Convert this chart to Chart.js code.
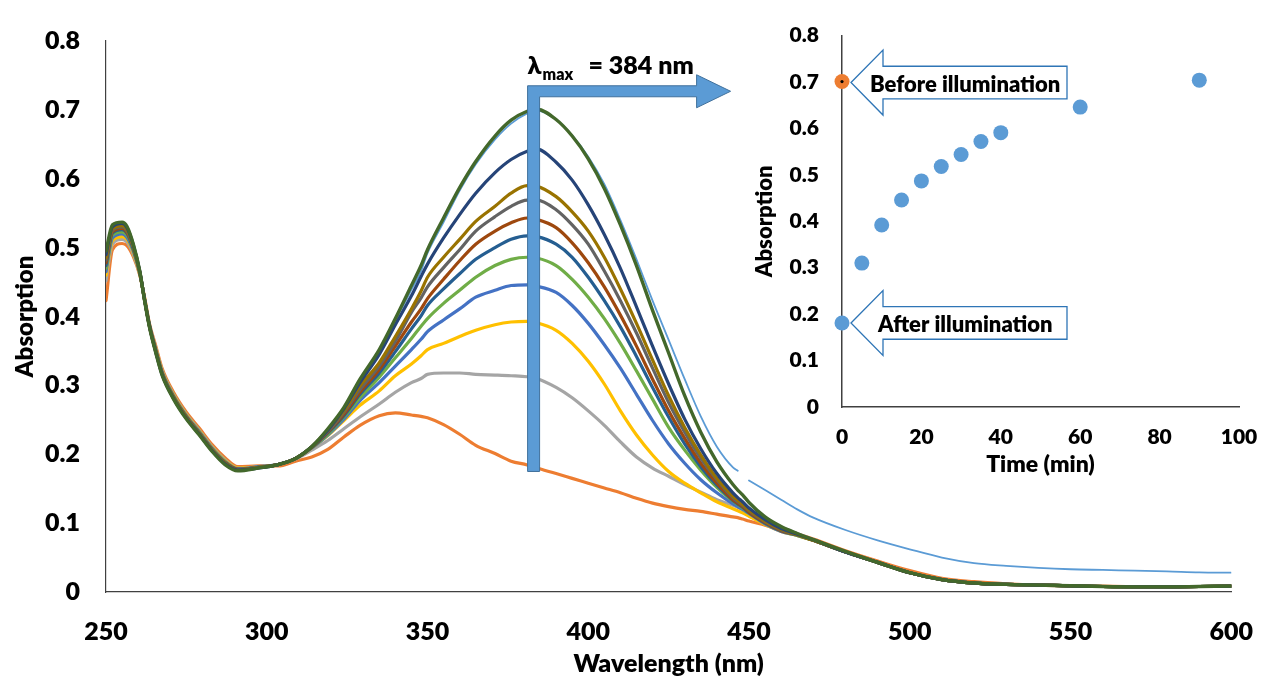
<!DOCTYPE html>
<html><head><meta charset="utf-8">
<script src="https://cdn.jsdelivr.net/npm/chart.js@4.4.0/dist/chart.umd.min.js"></script>
<style>
html,body{margin:0;padding:0;background:#fff;}
#wrap{position:relative;width:1278px;height:679px;overflow:hidden;background:#fff;}
#main{position:absolute;left:0;top:0;}
#inset{position:absolute;left:740px;top:0;}
</style></head><body>
<div id="wrap">
<canvas id="main" width="1278" height="679"></canvas>
<canvas id="inset" width="538" height="480"></canvas>
</div>
<script>
// ---------- main spectra data ----------
const wavelengths = [250,252,255,256.5,258.5,260.5,262,263.5,265.5,267.5,271,275,279,283,287,291,297.5,303.5,309,314,319,324,329,335,340,345,348,350,355,360,365,371,376,381,384,390,395,400,405,410,415,420,425,430,435,440,445,446.5,448,450,455,460,465,470,480,490,500,510,520,530,540,550,560,570,580,590,600];

const absBefore = [.485,.529,.534,.528,.503,.466,.424,.386,.349,.316,.282,.253,.230,.206,.187,.177,.181,.185,.194,.211,.236,.267,.307,.350,.394,.439,.466,.492,.537,.583,.621,.657,.680,.695,.699,.686,.663,.632,.592,.540,.483,.423,.366,.309,.255,.211,.181,.176,null,.162,.148,.134,.120,.108,.090,.075,.062,.050,.042,.038,.035,.033,.032,.031,.030,.0285,.028];
const abs0min = [.423,.497,.506,.503,.487,.460,.428,.390,.357,.324,.290,.261,.238,.214,.195,.182,.183,.183,.190,.196,.207,.225,.242,.256,.260,.257,.255,.253,.243,.229,.213,.201,.190,.1845,.180,.172,.165,.158,.151,.144,.136,.129,.124,.120,.117,.113,.109,.108,.106,.103,.097,.090,.084,.077,.060,.045,.031,.020,.015,.012,.010,.009,.0085,.008,.008,.008,.0085];
const abs5min = [.452,.505,.512,.508,.490,.461,.426,.389,.354,.321,.287,.258,.235,.211,.192,.180,.182,.185,.193,.206,.220,.237,.254,.273,.290,.304,.310,.316,.318,.318,.316,.315,.314,.3125,.310,.297,.282,.263,.242,.218,.196,.180,.168,.156,.145,.134,.126,.123,.120,.116,.105,.094,.085,.076,.058,.043,.028,.018,.013,.011,.010,.009,.008,.0075,.0075,.008,.0085];
const abs10min = [.460,.510,.516,.512,.493,.462,.426,.388,.353,.320,.286,.257,.234,.210,.191,.180,.182,.185,.194,.209,.227,.249,.271,.292,.314,.331,.343,.352,.361,.371,.380,.388,.392,.393,.391,.380,.361,.335,.302,.263,.228,.199,.175,.158,.144,.131,.121,.118,.115,.110,.098,.088,.082,.075,.058,.043,.028,.018,.013,.011,.010,.009,.008,.0075,.0075,.008,.0085];
const abs15min = [.465,.514,.520,.515,.495,.463,.425,.388,.352,.319,.285,.256,.233,.209,.190,.179,.182,.185,.194,.209,.228,.251,.278,.304,.328,.352,.367,.378,.395,.411,.428,.438,.445,.446,.444,.435,.416,.390,.359,.325,.287,.249,.215,.187,.163,.144,.128,.124,.120,.114,.099,.088,.082,.075,.058,.043,.028,.018,.013,.011,.010,.009,.008,.0075,.0075,.008,.0085];
const abs20min = [.470,.518,.523,.518,.497,.463,.425,.387,.351,.318,.284,.255,.232,.208,.189,.178,.181,.185,.194,.210,.229,.254,.282,.312,.340,.368,.386,.397,.419,.438,.457,.474,.483,.486,.485,.474,.454,.428,.397,.361,.321,.280,.239,.206,.177,.152,.132,.127,.122,.115,.100,.089,.082,.075,.058,.043,.028,.018,.013,.011,.010,.009,.008,.0075,.0075,.008,.0085];
const abs25min = [.474,.521,.526,.521,.498,.464,.424,.387,.350,.317,.283,.254,.231,.207,.188,.178,.181,.185,.194,.210,.231,.256,.287,.318,.349,.382,.401,.416,.440,.462,.483,.500,.512,.517,.516,.505,.486,.457,.423,.385,.342,.297,.254,.215,.182,.155,.133,.128,.123,.115,.100,.089,.083,.075,.058,.043,.028,.018,.013,.011,.010,.009,.008,.0075,.0075,.008,.0085];
const abs30min = [.478,.523,.528,.522,.500,.464,.424,.387,.350,.317,.283,.254,.231,.207,.188,.178,.181,.185,.194,.210,.232,.258,.290,.323,.357,.392,.411,.426,.454,.481,.505,.524,.536,.543,.541,.529,.507,.478,.443,.402,.357,.309,.263,.223,.187,.158,.134,.129,.124,.116,.101,.089,.083,.075,.058,.043,.028,.018,.013,.011,.010,.009,.008,.0075,.0075,.008,.0085];
const abs35min = [.482,.525,.530,.524,.501,.465,.424,.386,.349,.316,.282,.253,.230,.206,.187,.177,.181,.185,.194,.211,.233,.261,.294,.328,.364,.406,.427,.443,.471,.497,.524,.545,.560,.569,.569,.555,.533,.505,.466,.423,.376,.325,.275,.232,.194,.163,.137,.131,.126,.118,.102,.090,.083,.075,.058,.043,.028,.018,.013,.011,.010,.009,.008,.0075,.0075,.008,.0085];
const abs40min = [.485,.527,.532,.526,.502,.465,.424,.386,.349,.316,.282,.253,.230,.206,.187,.177,.181,.185,.194,.211,.235,.263,.299,.333,.371,.411,.437,.457,.486,.512,.538,.560,.579,.590,.589,.574,.552,.524,.486,.440,.390,.337,.285,.239,.199,.165,.139,.133,.127,.119,.103,.091,.083,.075,.058,.043,.028,.018,.013,.011,.010,.009,.008,.0075,.0075,.008,.0085];
const abs60min = [.490,.530,.535,.529,.504,.466,.424,.386,.348,.315,.281,.252,.229,.205,.186,.177,.180,.185,.194,.211,.235,.266,.304,.345,.388,.430,.458,.476,.514,.548,.579,.609,.628,.640,.643,.624,.598,.562,.519,.470,.414,.357,.302,.251,.208,.172,.144,.137,.131,.122,.105,.092,.084,.076,.058,.043,.028,.018,.013,.011,.010,.009,.008,.0075,.0075,.008,.0085];
const abs90min = [.495,.533,.537,.531,.505,.466,.423,.385,.347,.314,.280,.251,.228,.204,.185,.176,.180,.185,.194,.211,.237,.268,.309,.352,.397,.445,.474,.497,.543,.587,.625,.662,.685,.698,.701,.686,.662,.629,.586,.533,.474,.409,.347,.285,.232,.189,.156,.148,.141,.130,.109,.095,.085,.076,.059,.043,.028,.018,.013,.011,.010,.009,.008,.0075,.0075,.008,.0085];

const wavelengthTicks = [250,300,350,400,450,500,550,600];
const absorptionTicks = [0,0.1,0.2,0.3,0.4,0.5,0.6,0.7,0.8];
const lambdaMax = 383;

// ---------- inset data ----------
const timeMin = [0,5,10,15,20,25,30,35,40,60,90];
const absAtMax = [0.181,0.310,0.392,0.446,0.487,0.518,0.544,0.572,0.591,0.646,0.704];
const beforeTime = [0];
const beforeAbs = [0.701];
const timeTicks = [0,20,40,60,80,100];

// ---------- styles ----------
const FONT = 'Lato';
const W = 800;
const seriesList = [
  {d: abs90min, c:'#43682B', w:3.4},
  {d: abs60min, c:'#264478', w:3.2},
  {d: abs40min, c:'#997300', w:3.2},
  {d: abs35min, c:'#636363', w:3.2},
  {d: abs30min, c:'#9E480E', w:3.2},
  {d: abs25min, c:'#255E91', w:3.2},
  {d: abs20min, c:'#70AD47', w:3.2},
  {d: abs15min, c:'#4472C4', w:3.2},
  {d: abs10min, c:'#FFC000', w:3.2},
  {d: abs5min,  c:'#A5A5A5', w:3.2},
  {d: abs0min,  c:'#ED7D31', w:3.2},
  {d: absBefore,c:'#5B9BD5', w:1.8}
];

const lambdaArrow = {
  id: 'lambdaArrow',
  afterDatasetsDraw(chart) {
    const {ctx, scales: {x, y}} = chart;
    const cx = x.getPixelForValue(lambdaMax);
    const half = 6;
    const yBot = y.getPixelForValue(0.175);
    const yTop = y.getPixelForValue(0.735);
    const thick = 11;
    const headBase = cx + 163, tip = cx + 197;
    ctx.save();
    ctx.beginPath();
    ctx.moveTo(cx - half, yBot);
    ctx.lineTo(cx - half, yTop);
    ctx.lineTo(headBase, yTop);
    ctx.lineTo(headBase, yTop - 11);
    ctx.lineTo(tip, yTop + thick / 2);
    ctx.lineTo(headBase, yTop + thick + 11);
    ctx.lineTo(headBase, yTop + thick);
    ctx.lineTo(cx + half, yTop + thick);
    ctx.lineTo(cx + half, yBot);
    ctx.closePath();
    ctx.fillStyle = '#5B9BD5';
    ctx.fill();
    ctx.strokeStyle = '#41719C';
    ctx.lineWidth = 1;
    ctx.stroke();
    ctx.fillStyle = '#000';
    ctx.textBaseline = 'alphabetic';
    ctx.textAlign = 'left';
    ctx.font = W + ' 25px ' + FONT + ', "DejaVu Sans"';
    ctx.fillText('λ', cx - half, yTop - 12);
    const lw = ctx.measureText('λ').width;
    ctx.font = W + ' 16px ' + FONT;
    ctx.fillText('max', cx - half + lw + 1, yTop - 6);
    ctx.font = W + ' 25px ' + FONT;
    ctx.fillText('= 384 nm', cx + 55, yTop - 12);
    ctx.restore();
  }
};

const fnt = (s) => ({family: FONT, size: s, weight: W});

new Chart(document.getElementById('main'), {
  type: 'line',
  data: {
    datasets: seriesList.map(s => ({
      data: wavelengths.map((w, i) => ({x: w, y: s.d[i]})),
      borderColor: s.c,
      backgroundColor: s.c,
      borderWidth: s.w,
      pointRadius: 0,
      fill: false,
      spanGaps: false,
      cubicInterpolationMode: 'monotone'
    }))
  },
  options: {
    responsive: false,
    animation: false,
    devicePixelRatio: 1,
    layout: {padding: {left: 0, top: 34, right: 38, bottom: 0}},
    plugins: {legend: {display: false}, tooltip: {enabled: false}},
    elements: {line: {borderJoinStyle: 'round', borderCapStyle: 'round'}},
    scales: {
      x: {
        type: 'linear', min: 250, max: 600,
        afterBuildTicks: s => { s.ticks = wavelengthTicks.map(v => ({value: v})); },
        afterFit: s => { s.height = 87; },
        grid: {display: false, drawTicks: false},
        border: {display: true, color: '#404040', width: 1.2},
        ticks: {padding: 25, color: '#000', font: fnt(25), maxRotation: 0},
        title: {display: true, text: 'Wavelength (nm)', color: '#000', font: fnt(25), padding: {top: 0, bottom: 0}}
      },
      y: {
        type: 'linear', min: 0, max: 0.8,
        afterBuildTicks: s => { s.ticks = absorptionTicks.map(v => ({value: v})); },
        afterFit: s => { s.width = 106; },
        grid: {display: false, drawTicks: false},
        border: {display: true, color: '#404040', width: 1.2},
        ticks: {padding: 26, color: '#000', font: fnt(25), callback: v => v === 0 ? '0' : v.toFixed(1)},
        title: {display: true, text: 'Absorption', color: '#000', font: fnt(24), padding: {top: 11, bottom: 0}}
      }
    }
  },
  plugins: [lambdaArrow]
});

// ---------- inset ----------
function drawCallout(ctx, tipX, tipY, text, boxRight, textX, fontSize) {
  const head = 32, headH = 32.5, boxH = 16.3;
  ctx.save();
  ctx.beginPath();
  ctx.moveTo(tipX, tipY);
  ctx.lineTo(tipX + head, tipY - headH);
  ctx.lineTo(tipX + head, tipY - boxH);
  ctx.lineTo(boxRight, tipY - boxH);
  ctx.lineTo(boxRight, tipY + boxH);
  ctx.lineTo(tipX + head, tipY + boxH);
  ctx.lineTo(tipX + head, tipY + headH);
  ctx.closePath();
  ctx.fillStyle = '#fff';
  ctx.fill();
  ctx.strokeStyle = '#2E75B6';
  ctx.lineWidth = 1.3;
  ctx.stroke();
  ctx.fillStyle = '#000';
  ctx.font = W + ' ' + fontSize + 'px ' + FONT;
  ctx.textBaseline = 'middle';
  ctx.textAlign = 'left';
  ctx.fillText(text, textX, tipY + 2);
  ctx.restore();
}

const callouts = {
  id: 'callouts',
  afterDatasetsDraw(chart) {
    const {ctx, scales: {x, y}} = chart;
    const bx = x.getPixelForValue(beforeTime[0]) + 9;
    const by = y.getPixelForValue(beforeAbs[0]) + 1;
    drawCallout(ctx, bx, by, 'Before illumination', bx + 216, bx + 19, 22);
    const ax = x.getPixelForValue(timeMin[0]) + 9;
    const ay = y.getPixelForValue(absAtMax[0]);
    drawCallout(ctx, ax, ay, 'After illumination', ax + 216, ax + 27, 22);
  }
};

new Chart(document.getElementById('inset'), {
  type: 'scatter',
  data: {
    datasets: [
      {data: beforeTime.map((t, i) => ({x: t, y: beforeAbs[i]})), pointRadius: 1.6, pointBackgroundColor: '#000', pointBorderWidth: 0, clip: false},
      {data: beforeTime.map((t, i) => ({x: t, y: beforeAbs[i]})), pointRadius: 7.5, pointBackgroundColor: '#ED7D31', pointBorderColor: '#ED7D31', pointBorderWidth: 0, clip: false},
      {data: timeMin.map((t, i) => ({x: t, y: absAtMax[i]})), pointRadius: 7.5, pointBackgroundColor: '#5B9BD5', pointBorderColor: '#5B9BD5', pointBorderWidth: 0, clip: false}
    ]
  },
  options: {
    responsive: false,
    animation: false,
    devicePixelRatio: 1,
    layout: {padding: {left: 0, top: 25, right: 39, bottom: 0}},
    plugins: {legend: {display: false}, tooltip: {enabled: false}},
    scales: {
      x: {
        type: 'linear', min: 0, max: 100,
        afterBuildTicks: s => { s.ticks = timeTicks.map(v => ({value: v})); },
        afterFit: s => { s.height = 73; },
        grid: {display: false, drawTicks: false},
        border: {display: true, color: '#404040', width: 1.5},
        ticks: {padding: 18, color: '#000', font: fnt(21), maxRotation: 0},
        title: {display: true, text: 'Time (min)', color: '#000', font: fnt(23), padding: {top: 0, bottom: 2}}
      },
      y: {
        type: 'linear', min: 0, max: 0.8,
        afterBuildTicks: s => { s.ticks = absorptionTicks.map(v => ({value: v})); },
        afterFit: s => { s.width = 102; },
        grid: {display: false, drawTicks: false},
        border: {display: true, color: '#404040', width: 1.5},
        ticks: {padding: 23, color: '#000', font: fnt(21), callback: v => v === 0 ? '0' : v.toFixed(1)},
        title: {display: true, text: 'Absorption', color: '#000', font: fnt(22), padding: {top: 12, bottom: 0}}
      }
    }
  },
  plugins: [callouts]
});
</script>
</body></html>
